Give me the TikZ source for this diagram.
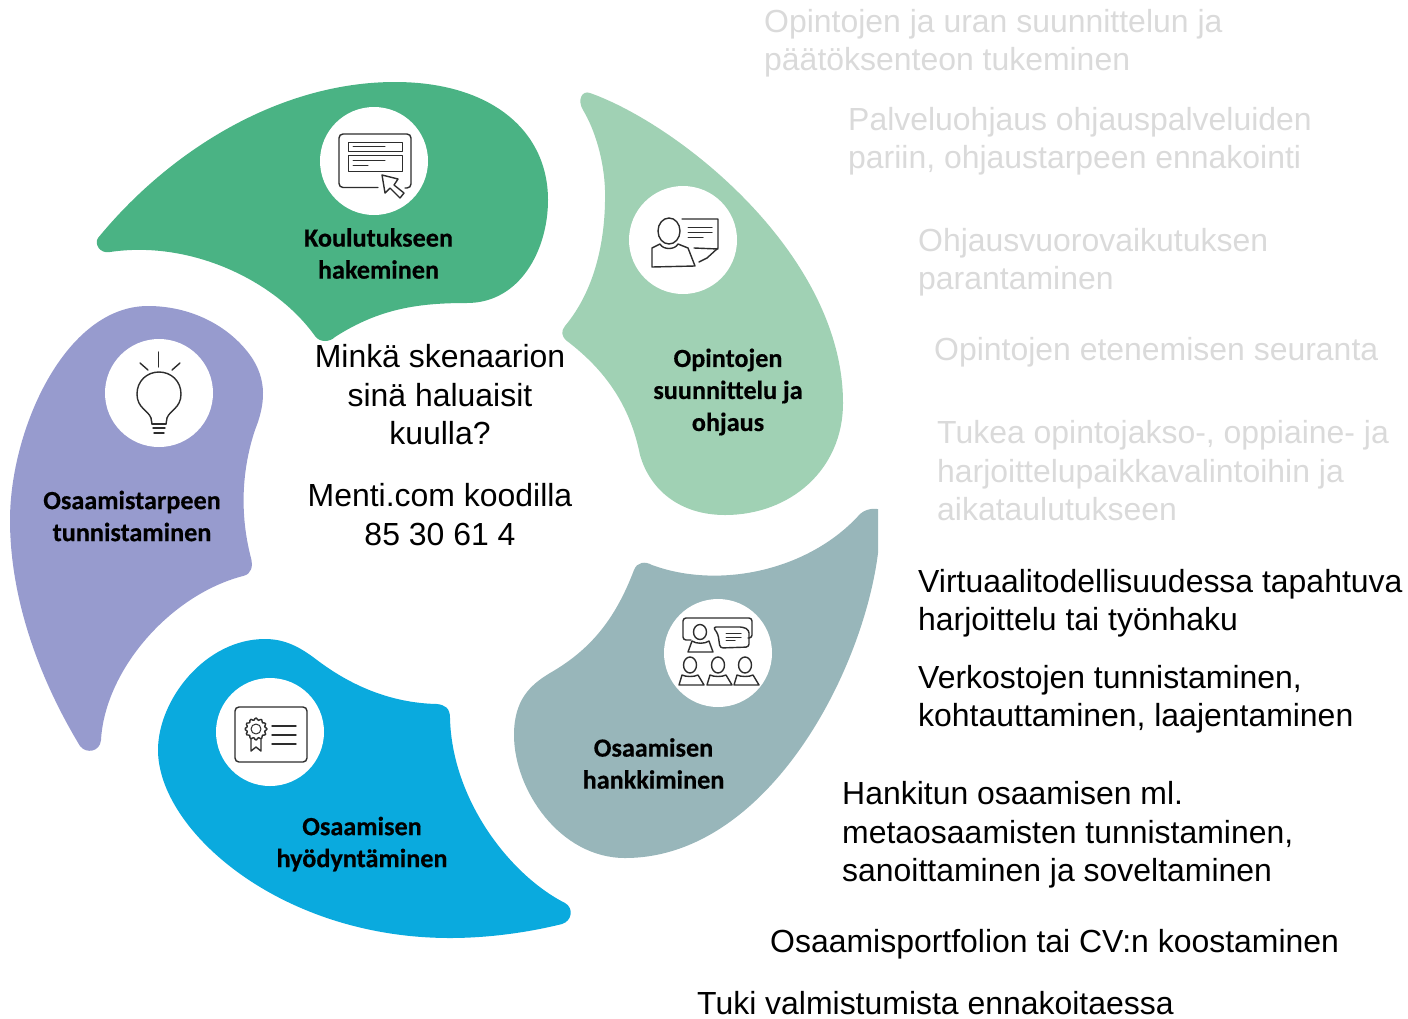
\documentclass[tikz,border=0pt]{standalone}
\usepackage{fontspec}
\usepackage{xcolor}
\setmainfont{Liberation Sans}
\newfontfamily\labelfont[BoldFeatures={FakeBold=0.4}]{Carlito}
\definecolor{hakugreen}{RGB}{74,179,132}
\definecolor{ohjausgreen}{RGB}{160,209,180}
\definecolor{hankintateal}{RGB}{152,182,186}
\definecolor{hyotyblue}{RGB}{10,170,222}
\definecolor{tarvepurple}{RGB}{151,155,206}
\definecolor{fadedgrey}{RGB}{218,218,218}
\definecolor{icongrey}{RGB}{45,45,45}

\begin{document}
\begin{tikzpicture}[x=1pt, y=-1pt]
  \tikzstyle{myicon}=[draw=none, fill=white, circle, minimum size=108pt, inner sep=0pt];
  \tikzstyle{myline}=[icongrey, line width=1.4pt, line cap=round, line join=round];
  \tikzstyle{mythin}=[myline, line width=1pt];
  \tikzstyle{mylabel}=[text=black, align=center, inner sep=0pt,
    font=\labelfont\bfseries\fontsize{26.2}{32}\selectfont];
  \tikzstyle{mytext}=[text=black, align=left, anchor=west, inner sep=0pt,
    font=\fontsize{31.95}{38.5}\selectfont];
  \tikzstyle{myfaded}=[mytext, text=fadedgrey];
  \tikzstyle{mycenter}=[mytext, anchor=center, align=center];
  \useasboundingbox (0, 0) rectangle (1408, 1018);
  %
  % petals
  \fill[hakugreen] (98, 238) .. controls (170, 150) and (280, 82) .. (395, 82)
  .. controls (490, 82) and (548, 130) .. (548, 200)
  .. controls (548, 250) and (520, 303) .. (467, 303)
  .. controls (420, 303) and (380, 308) .. (335, 337)
  .. controls (330, 342) and (320, 343) .. (315, 336)
  .. controls (275, 280) and (190, 240) .. (110, 252)
  .. controls (100, 254) and (94, 244) .. (98, 238) -- cycle;
  %
  \fill[ohjausgreen] (590, 93) .. controls (680, 125) and (843, 255) .. (843, 403)
  .. controls (843, 470) and (790, 515) .. (725, 515)
  .. controls (680, 515) and (650, 490) .. (640, 455)
  .. controls (630, 405) and (605, 370) .. (567, 341)
  .. controls (561, 336) and (561, 331) .. (565, 326)
  .. controls (595, 290) and (606, 240) .. (605, 190)
  .. controls (604, 160) and (595, 130) .. (583, 110)
  .. controls (577, 100) and (582, 90) .. (590, 93) -- cycle;
  %
  \begin{scope}
    \clip (500, 500) rectangle (878, 870);
    \fill[hankintateal] (860, 514) .. controls (868, 507) and (880, 507) .. (890, 514)
    -- (880, 530) .. controls (875, 650) and (775, 858) .. (625, 858)
    .. controls (560, 858) and (514, 790) .. (514, 735)
    .. controls (514, 700) and (530, 685) .. (550, 673)
    .. controls (590, 650) and (615, 620) .. (634, 570)
    .. controls (637, 562) and (645, 561) .. (652, 565)
    .. controls (720, 590) and (810, 570) .. (860, 514) -- cycle;
  \end{scope}
  %
  \fill[hyotyblue] (265, 639) .. controls (205, 639) and (158, 700) .. (158, 750)
  .. controls (158, 830) and (280, 938) .. (450, 938)
  .. controls (490, 938) and (530, 932) .. (562, 924)
  .. controls (572, 921) and (574, 908) .. (565, 903)
  .. controls (510, 875) and (452, 800) .. (450, 718)
  .. controls (450, 708) and (445, 705) .. (437, 704)
  .. controls (390, 703) and (350, 685) .. (317, 660)
  .. controls (300, 647) and (285, 639) .. (265, 639) -- cycle;
  %
  \fill[tarvepurple] (148, 306) .. controls (65, 306) and (10, 430) .. (10, 520)
  .. controls (10, 600) and (40, 680) .. (80, 746)
  .. controls (86, 754) and (100, 752) .. (101, 740)
  .. controls (105, 670) and (170, 595) .. (243, 576)
  .. controls (252, 574) and (253, 566) .. (251, 558)
  .. controls (241, 520) and (240, 475) .. (255, 430)
  .. controls (265, 405) and (268, 380) .. (250, 355)
  .. controls (228, 325) and (190, 306) .. (148, 306) -- cycle;
  %
  % icon discs
  \node[myicon] (hakuicon) at (374, 161) {};
  \node[myicon] (ohjausicon) at (683, 240) {};
  \node[myicon] (tarveicon) at (159, 393) {};
  \node[myicon] (hankintaicon) at (718, 653) {};
  \node[myicon] (hyotyicon) at (270, 732) {};
  %
  % form icon
  \draw[myline] (378, 187.5) -- (345, 187.5) [rounded corners=4pt] -- (339, 187.5)
  -- (339, 134) -- (411, 134) -- (411, 188) -- (405, 188);
  \draw[mythin] (348, 142) rectangle (402, 151);
  \draw[mythin] (348, 155) rectangle (402, 171);
  \draw[mythin] (353, 146) -- (385, 146);
  \draw[mythin] (353, 160) -- (385, 160);
  \draw[mythin] (353, 165) -- (368, 165);
  \draw[myline] (382, 175) -- (398, 179) -- (394, 185) -- (404, 193) -- (400, 198)
  -- (390, 188) -- (385, 193) -- cycle;
  %
  % person with note icon
  \draw[myline] (669, 231) ellipse (11 and 13);
  \draw[myline] (652, 267) -- (652, 248) -- (660, 244)
  .. controls (663, 250) and (675, 250) .. (678, 244) -- (688, 248) -- (695, 266) -- cycle;
  \draw[myline] (682, 219) -- (718, 219) -- (718, 248) -- (707, 258) -- (699, 262);
  \draw[myline] (694, 248) -- (718, 249);
  \draw[mythin] (688, 227) -- (712, 227);
  \draw[mythin] (688, 232) -- (712, 232);
  \draw[mythin] (688, 237) -- (703, 237);
  %
  % bulb icon
  \draw[myline] (151, 418) .. controls (148, 410) and (137, 408) .. (137, 394)
  .. controls (137, 381) and (147, 372) .. (159, 372)
  .. controls (171, 372) and (181, 381) .. (181, 394)
  .. controls (181, 408) and (170, 410) .. (167, 418);
  \draw[myline] (151, 418) -- (152, 424);
  \draw[myline] (167, 418) -- (166, 424);
  \foreach \liney/\halfw in {424/7, 428/6, 433/5}
    \draw[myline] (159-\halfw, \liney) -- (159+\halfw, \liney);
  \draw[myline] (158.5, 352) -- (158.5, 367);
  \draw[myline] (140, 363) -- (148, 370);
  \draw[myline] (180, 363) -- (172, 370);
  %
  % classroom icon
  \draw[myline] (691, 640) [rounded corners=3pt] -- (683, 640) -- (683, 618)
  -- (752, 618) -- (752, 638) -- (748, 638);
  \draw[myline] (700, 632) ellipse (6.5 and 7.5);
  \draw[myline] (688, 652) -- (692, 641) .. controls (696, 644) and (705, 644) ..
  (709, 641) -- (713, 652) -- cycle;
  \draw[myline, rounded corners=3pt] (713, 627) -- (743, 627) -- (749, 630) -- (749, 647)
  -- (720, 648) -- (718, 634) -- cycle;
  \draw[mythin] (726, 633) -- (741, 633);
  \draw[mythin] (726, 637) -- (741, 637);
  \draw[mythin] (726, 640.5) -- (735, 640.5);
  \foreach \seatx in {690, 718, 745} {
    \draw[myline] (\seatx, 665) ellipse (6.5 and 8);
    \draw[myline] (\seatx-11, 685) -- (\seatx-8, 675)
    .. controls (\seatx-4, 677) and (\seatx+4, 677) .. (\seatx+8, 675)
    -- (\seatx+14, 685) -- cycle;
  }
  %
  % certificate icon
  \draw[myline, rounded corners=4pt] (235, 707) rectangle (307, 762);
  \draw[myline] plot[smooth cycle, samples=49, domain=0:352.5, variable=\t]
  ({256+(10+1.1*cos(12*\t))*cos(\t)}, {729+(10+1.1*cos(12*\t))*sin(\t)});
  \draw[mythin] (256, 729) circle (5);
  \draw[myline] (251, 739) -- (251, 751) -- (256, 747) -- (261, 751) -- (261, 739);
  \foreach \liney in {726, 735, 744}
    \draw[myline] (272, \liney) -- (296, \liney);
  %
  % petal labels
  \node[mylabel] (hakulabel) at (378.5, 253.5) {Koulutukseen\\hakeminen};
  \node[mylabel] (ohjauslabel) at (728, 392) {Opintojen\\suunnittelu ja\\ohjaus};
  \node[mylabel] (tarvelabel) at (132, 516) {Osaamistarpeen\\tunnistaminen};
  \node[mylabel] (hankintalabel) at (653.5, 763.5) {Osaamisen\\hankkiminen};
  \node[mylabel] (hyotylabel) at (362, 844) {Osaamisen\\hyödyntäminen};
  %
  % question in the middle
  \node[mycenter] (question) at (440, 395) {Minkä skenaarion\\sinä haluaisit\\kuulla?};
  \node[mycenter] (menti) at (440, 514.5) {Menti.com koodilla\\85 30 61 4};
  %
  % faded list
  \node[myfaded] (fadeda) at (764, 43) {Opintojen ja uran suunnittelun ja\\päätöksenteon tukeminen};
  \node[myfaded] (fadedb) at (848, 141) {Palveluohjaus ohjauspalveluiden\\pariin, ohjaustarpeen ennakointi};
  \node[myfaded] (fadedc) at (918, 262) {Ohjausvuorovaikutuksen\\parantaminen};
  \node[myfaded] (fadedd) at (934, 352) {Opintojen etenemisen seuranta};
  \node[myfaded] (fadede) at (937, 471) {Tukea opintojakso-, oppiaine- ja\\harjoittelupaikkavalintoihin ja\\aikataulutukseen};
  %
  % black list
  \node[mytext] (lista) at (918, 603) {Virtuaalitodellisuudessa tapahtuva\\harjoittelu tai työnhaku};
  \node[mytext] (listb) at (918, 699) {Verkostojen tunnistaminen,\\kohtauttaminen, laajentaminen};
  \node[mytext] (listc) at (842, 835) {Hankitun osaamisen ml.\\metaosaamisten tunnistaminen,\\sanoittaminen ja soveltaminen};
  \node[mytext] (listd) at (770, 944) {Osaamisportfolion tai CV:n koostaminen};
  \node[mytext] (liste) at (697, 1003.5) {Tuki valmistumista ennakoitaessa};
\end{tikzpicture}
\end{document}
